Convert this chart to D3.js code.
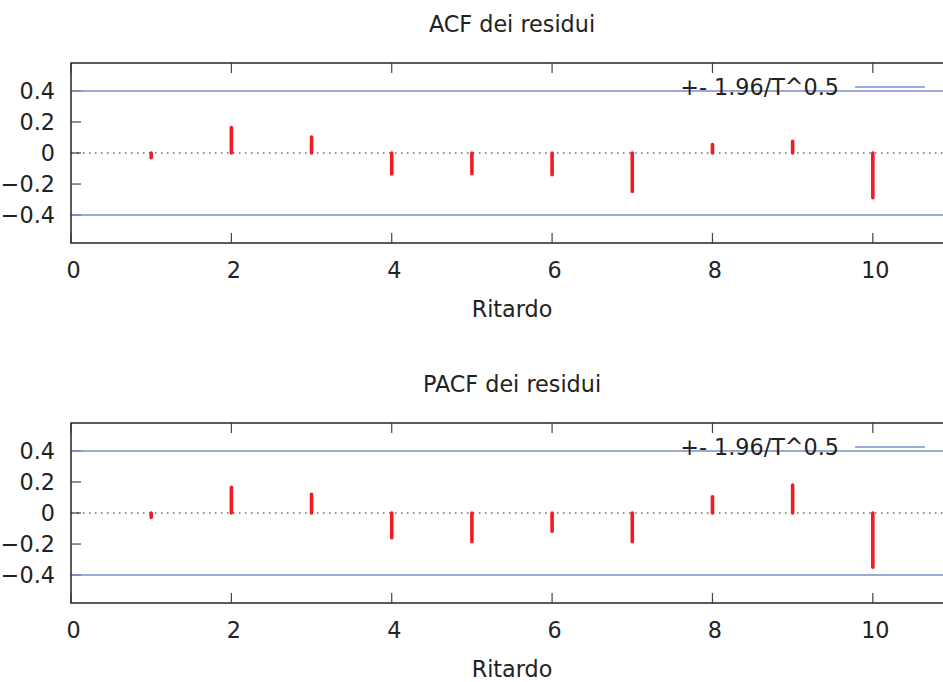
<!DOCTYPE html>
<html>
<head>
<meta charset="utf-8">
<script src="https://cdn.jsdelivr.net/npm/d3@7"></script>
<style>
	body { margin: 0; background: #fff; }
	text { font-family: "DejaVu Sans", sans-serif; fill: #222; }
</style>
</head>
<body>
<div id="chart"></div>
<script>
var lags = [1, 2, 3, 4, 5, 6, 7, 8, 9, 10];
var acfValues = [-0.03, 0.164, 0.103, -0.135, -0.134, -0.14, -0.248, 0.054, 0.075, -0.288];
var pacfValues = [-0.028, 0.165, 0.12, -0.159, -0.185, -0.118, -0.185, 0.105, 0.18, -0.35];
var xTicks = [0, 2, 4, 6, 8, 10];
var yTicks = [-0.4, -0.2, 0, 0.2, 0.4];
var bound = 0.4;
var titles = ["ACF dei residui", "PACF dei residui"];
var xLabel = "Ritardo";
var legendLabel = "+- 1.96/T^0.5";

var width = 943, height = 682;
var fontSize = "22.3px";
var svg = d3.select("#chart")
  .append("svg")
    .attr("width", width)
    .attr("height", height);

function makePanel(top, title, values) {
	var left = 71, right = 953, plotTop = top, plotBottom = top + 180;
	var x = d3.scaleLinear().domain([0, 11]).range([left, right]);
	var y = d3.scaleLinear().domain([-0.58, 0.58]).range([plotBottom, plotTop]);
	var g = svg.append("g");

	//title
	g.append("text")
	    .attr("x", (left + right) / 2)
	    .attr("y", top - 31)
	    .attr("text-anchor", "middle")
	    .style("font-size", fontSize)
	    .text(title);

	//ticks (inward, mirrored)
	yTicks.forEach(function(t) {
		[[left, left + 10], [right, right - 10]].forEach(function(p) {
			g.append("line")
			    .attr("x1", p[0]).attr("x2", p[1])
			    .attr("y1", y(t)).attr("y2", y(t))
			    .style("stroke", "#444")
			    .style("stroke-width", "1.2px");
		});
		g.append("text")
		    .attr("x", 55)
		    .attr("y", y(t) + 8)
		    .attr("text-anchor", "end")
		    .style("font-size", fontSize)
		    .text(t == 0 ? "0" : d3.format(".1f")(t));
	});
	xTicks.forEach(function(t) {
		[[plotBottom, plotBottom - 10], [plotTop, plotTop + 10]].forEach(function(p) {
			g.append("line")
			    .attr("x1", x(t)).attr("x2", x(t))
			    .attr("y1", p[0]).attr("y2", p[1])
			    .style("stroke", "#444")
			    .style("stroke-width", "1.2px");
		});
		g.append("text")
		    .attr("x", x(t) + 2.5)
		    .attr("y", plotBottom + 35)
		    .attr("text-anchor", "middle")
		    .style("font-size", fontSize)
		    .text(t);
	});

	//x label
	g.append("text")
	    .attr("x", (left + right) / 2)
	    .attr("y", plotBottom + 74)
	    .attr("text-anchor", "middle")
	    .style("font-size", fontSize)
	    .text(xLabel);

	//zero line
	g.append("line")
	    .attr("x1", left).attr("x2", right)
	    .attr("y1", y(0)).attr("y2", y(0))
	    .style("stroke", "#222")
	    .style("stroke-width", "1.2px")
	    .style("stroke-dasharray", "1.5,4.5");

	//confidence bounds
	[bound, -bound].forEach(function(b) {
		g.append("line")
		    .attr("x1", left).attr("x2", right)
		    .attr("y1", y(b)).attr("y2", y(b))
		    .style("stroke", "#7891c6")
		    .style("stroke-width", "1.5px");
	});

	//impulses
	g.selectAll(".bar")
	    .data(values)
	  .enter().append("line")
	    .attr("class", "bar")
	    .attr("x1", function(d, i) { return x(lags[i]); })
	    .attr("x2", function(d, i) { return x(lags[i]); })
	    .attr("y1", y(0))
	    .attr("y2", function(d) { return y(d); })
	    .attr("stroke-linecap", "round")
	    .style("stroke", "#f01c24")
	    .style("stroke-width", "3.6px");

	//legend
	g.append("text")
	    .attr("x", 839)
	    .attr("y", top + 32)
	    .attr("text-anchor", "end")
	    .style("font-size", fontSize)
	    .text(legendLabel);
	g.append("line")
	    .attr("x1", 855).attr("x2", 925)
	    .attr("y1", top + 24).attr("y2", top + 24)
	    .style("stroke", "#7891c6")
	    .style("stroke-width", "1.5px");

	//border
	g.append("rect")
	    .attr("x", left)
	    .attr("y", plotTop)
	    .attr("width", right - left)
	    .attr("height", plotBottom - plotTop)
	    .style("fill", "none")
	    .style("stroke", "#333")
	    .style("stroke-width", "1.6px");
}

makePanel(63, titles[0], acfValues);
makePanel(423, titles[1], pacfValues);
</script>
</body>
</html>
